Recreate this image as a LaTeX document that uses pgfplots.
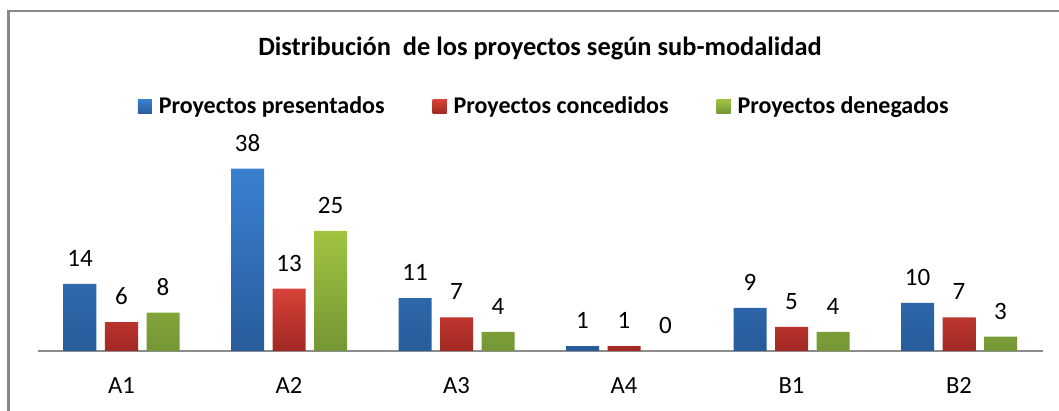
\documentclass[border=0pt]{standalone}
\usepackage{fontspec}
\setmainfont{Carlito}
\usepackage{pgfplots}
\pgfplotsset{compat=1.18}
\definecolor{bluetop}{RGB}{58,128,208}
\definecolor{bluebot}{RGB}{40,92,155}
\definecolor{redtop}{RGB}{215,66,56}
\definecolor{redbot}{RGB}{160,40,35}
\definecolor{greentop}{RGB}{160,196,64}
\definecolor{greenbot}{RGB}{116,150,54}
\definecolor{framegray}{RGB}{136,136,136}
\definecolor{axisgray}{RGB}{140,140,140}
\begin{document}
\begin{tikzpicture}
\useasboundingbox (0,0) rectangle (529.5pt,205.5pt);
\draw[line width=1.2pt, color=framegray] (4.3pt,0) -- (4.3pt,200pt) -- (529.5pt,200pt);
\node[font=\fontsize{13.2}{15}\selectfont\bfseries] at (270pt,181.5pt) {Distribución\ \ de los proyectos según sub-modalidad};
\begin{axis}[
  at={(18.875pt,30pt)}, anchor=south west,
  scale only axis, width=502.5pt, height=120pt,
  xmin=-0.5, xmax=5.5, ymin=0, ymax=50,
  ybar=4.25pt, bar width=16.5pt,
  axis y line=none, axis x line*=bottom,
  x axis line style={draw=axisgray, line width=0.8pt},
  xtick={0,1,2,3,4,5},
  xticklabels={A1,A2,A3,A4,B1,B2},
  major tick length=0pt,
  xticklabel style={font=\fontsize{12.3}{14}\selectfont, inner sep=0pt, yshift=-13pt},
  nodes near coords,
  nodes near coords style={font=\fontsize{12.5}{14}\selectfont, inner sep=0pt, yshift=8.5pt, text=black},
  /pgf/number format/assume math mode=true,
  legend style={at={(0.505,1.0167)}, anchor=center, legend columns=3, draw=none,
    font=\bfseries\fontsize{12}{14}\selectfont, inner sep=0pt,
    /tikz/every odd column/.append style={column sep=1.5pt},
    /tikz/every even column/.append style={column sep=22pt}},
  legend image code/.code={\fill[#1] (0pt,-3.2pt) rectangle (7pt,3.8pt);},
]
\addplot[draw=none, top color=bluetop, bottom color=bluebot] coordinates {(0,14) (1,38) (2,11) (3,1) (4,9) (5,10)};
\addplot[draw=none, top color=redtop, bottom color=redbot] coordinates {(0,6) (1,13) (2,7) (3,1) (4,5) (5,7)};
\addplot[draw=none, top color=greentop, bottom color=greenbot] coordinates {(0,8) (1,25) (2,4) (3,0) (4,4) (5,3)};
\legend{Proyectos presentados, Proyectos concedidos, Proyectos denegados}
\end{axis}
\end{tikzpicture}
\end{document}
